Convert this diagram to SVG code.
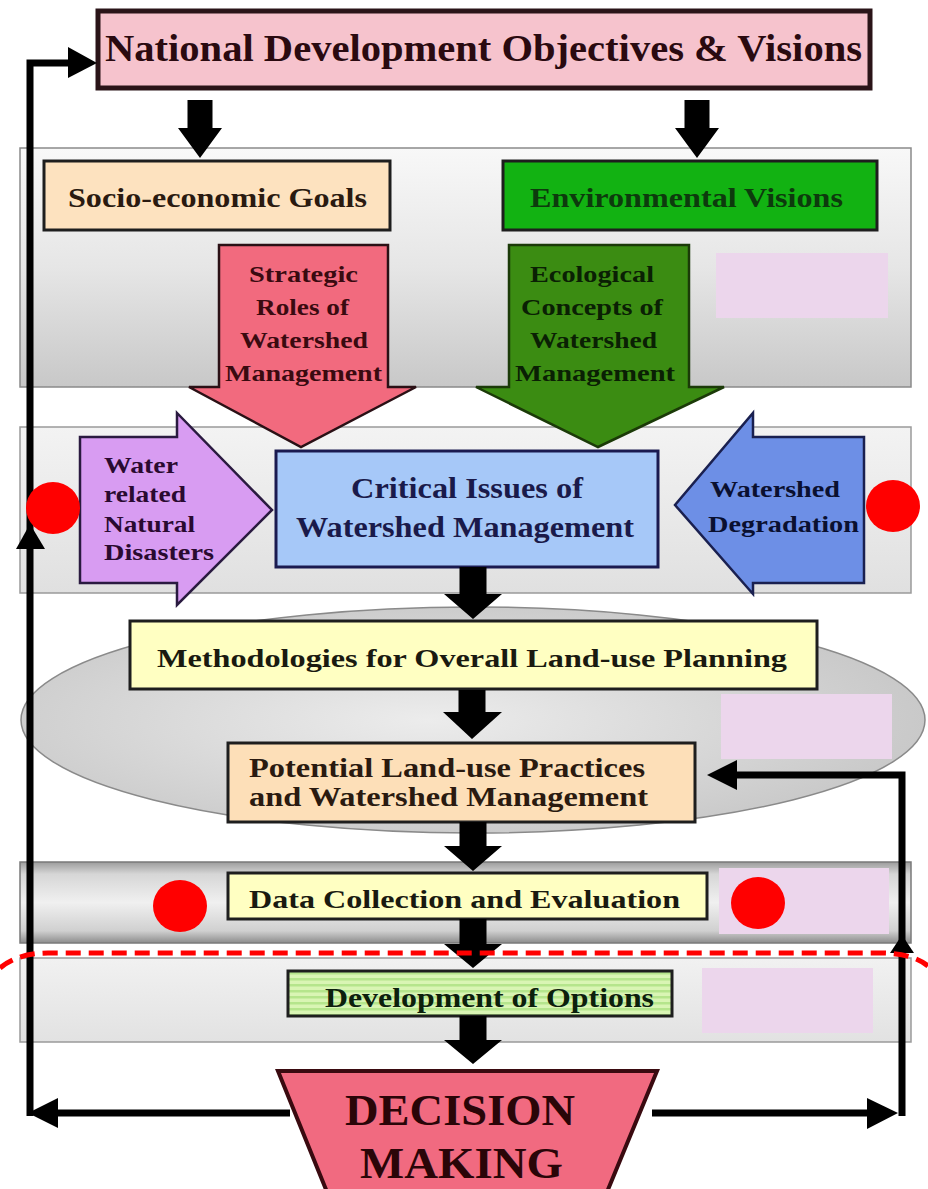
<svg xmlns="http://www.w3.org/2000/svg" width="928" height="1189" viewBox="0 0 928 1189">
<defs>
<style>
text{font-family:"Liberation Serif","Times New Roman",serif;font-weight:bold;}
.box{stroke:#1e1e1e;stroke-width:3;}
.blk{fill:#000;}
.fb{fill:none;stroke:#000;stroke-width:7;}
.lav{fill:#ecd6ec;}
.dot{fill:#ff0000;}
</style>
<linearGradient id="g1" x1="0" y1="0" x2="0" y2="1"><stop offset="0" stop-color="#f8f8f8"/><stop offset="0.5" stop-color="#e6e6e6"/><stop offset="1" stop-color="#c8c8c8"/></linearGradient>
<linearGradient id="g2" x1="0" y1="0" x2="0" y2="1"><stop offset="0" stop-color="#f3f3f3"/><stop offset="1" stop-color="#e0e0e0"/></linearGradient>
<radialGradient id="ge" cx="0.45" cy="0.5" r="0.55"><stop offset="0" stop-color="#ececec"/><stop offset="1" stop-color="#c9c9c9"/></radialGradient>
<linearGradient id="g3" x1="0" y1="0" x2="0" y2="1"><stop offset="0" stop-color="#9c9c9c"/><stop offset="0.15" stop-color="#d6d6d6"/><stop offset="0.5" stop-color="#f0f0f0"/><stop offset="0.85" stop-color="#d0d0d0"/><stop offset="1" stop-color="#8c8c8c"/></linearGradient>
<linearGradient id="g4" x1="0" y1="0" x2="0" y2="1"><stop offset="0" stop-color="#f1f1f1"/><stop offset="1" stop-color="#e2e2e2"/></linearGradient>
<pattern id="stripes" width="6" height="6" patternUnits="userSpaceOnUse"><rect width="6" height="6" fill="#d9f5b4"/><rect width="6" height="2.5" fill="#b5e58c"/></pattern>
</defs>

<g id="panels">
<rect x="20" y="148" width="891" height="239" fill="url(#g1)" stroke="#8a8a8a" stroke-width="1.5"/>
<rect x="20" y="427" width="891" height="166" fill="url(#g2)" stroke="#9a9a9a" stroke-width="1.5"/>
<ellipse cx="473" cy="720" rx="452" ry="113" fill="url(#ge)" stroke="#8a8a8a" stroke-width="1.5"/>
<rect x="20" y="862" width="891" height="81" fill="url(#g3)" stroke="#7a7a7a" stroke-width="1.5"/>
<rect x="20" y="958" width="891" height="84" fill="url(#g4)" stroke="#9a9a9a" stroke-width="1.5"/>
</g>

<g id="national">
<rect x="98" y="11" width="772" height="77" fill="#f6c3cd" stroke="#2a1418" stroke-width="5"/>
<text x="483.5" y="61" font-size="38" text-anchor="middle" fill="#2a0a10" textLength="757" lengthAdjust="spacingAndGlyphs">National Development Objectives &amp; Visions</text>
</g>

<g id="socio">
<rect class="box" x="44" y="161" width="346" height="69" fill="#fde2bf"/>
<text x="217.5" y="207" font-size="27" text-anchor="middle" fill="#2a1a10" textLength="299" lengthAdjust="spacingAndGlyphs">Socio-economic Goals</text>
</g>

<g id="environmental">
<rect class="box" x="503" y="161" width="374" height="69" fill="#12b212" stroke="#123a12"/>
<text x="686.5" y="207" font-size="27" text-anchor="middle" fill="#0d3a0d" textLength="313" lengthAdjust="spacingAndGlyphs">Environmental Visions</text>
</g>

<g id="strategic">
<path d="M219 245 H388 V387 H416 L301 447 L189 387 H219 Z" fill="#f26a7e" stroke="#2a1015" stroke-width="2.5"/>
<g font-size="24" text-anchor="middle" fill="#3a0a10">
<text x="303.5" y="282" textLength="109" lengthAdjust="spacingAndGlyphs">Strategic</text>
<text x="302.5" y="315" textLength="93" lengthAdjust="spacingAndGlyphs">Roles of</text>
<text x="304" y="348" textLength="128" lengthAdjust="spacingAndGlyphs">Watershed</text>
<text x="303.5" y="381" textLength="157" lengthAdjust="spacingAndGlyphs">Management</text>
</g>
</g>

<g id="ecological">
<path d="M509 245 H689 V387 H724 L598 447 L476 387 H509 Z" fill="#3b8c12" stroke="#1b3a08" stroke-width="2.5"/>
<g font-size="24" text-anchor="middle" fill="#0a2004">
<text x="592" y="282" textLength="124" lengthAdjust="spacingAndGlyphs">Ecological</text>
<text x="592" y="315" textLength="142" lengthAdjust="spacingAndGlyphs">Concepts of</text>
<text x="593.5" y="348" textLength="127" lengthAdjust="spacingAndGlyphs">Watershed</text>
<text x="595" y="381" textLength="160" lengthAdjust="spacingAndGlyphs">Management</text>
</g>
</g>

<g id="disasters">
<path d="M80 437 H177 V413 L272 510 L177 605 V583 H80 Z" fill="#d89cf2" stroke="#2a1a40" stroke-width="2.5"/>
<g font-size="24" fill="#2a0a30">
<text x="104" y="473" textLength="74" lengthAdjust="spacingAndGlyphs">Water</text>
<text x="104" y="502" textLength="82" lengthAdjust="spacingAndGlyphs">related</text>
<text x="104" y="532" textLength="91" lengthAdjust="spacingAndGlyphs">Natural</text>
<text x="104" y="560" textLength="110" lengthAdjust="spacingAndGlyphs">Disasters</text>
</g>
</g>

<g id="critical">
<rect x="276" y="451" width="382" height="116" fill="#a6c8f8" stroke="#1a1a50" stroke-width="3"/>
<text x="467" y="498" font-size="30" text-anchor="middle" fill="#1a1a4a" textLength="232" lengthAdjust="spacingAndGlyphs">Critical Issues of</text>
<text x="465" y="537" font-size="30" text-anchor="middle" fill="#1a1a4a" textLength="338" lengthAdjust="spacingAndGlyphs">Watershed Management</text>
</g>

<g id="degradation">
<path d="M864 437 H753 V413 L675 505 L753 594 V583 H864 Z" fill="#6d8fe6" stroke="#1a2050" stroke-width="2.5"/>
<g font-size="24" text-anchor="middle" fill="#0a1030">
<text x="775" y="497" textLength="130" lengthAdjust="spacingAndGlyphs">Watershed</text>
<text x="783.5" y="532" textLength="151" lengthAdjust="spacingAndGlyphs">Degradation</text>
</g>
</g>

<g id="methodologies">
<rect class="box" x="130" y="621" width="687" height="68" fill="#ffffc2"/>
<text x="472" y="667" font-size="26" text-anchor="middle" fill="#1a1a10" textLength="630" lengthAdjust="spacingAndGlyphs">Methodologies for Overall Land-use Planning</text>
</g>

<g id="potential">
<rect class="box" x="228" y="743" width="467" height="79" fill="#fddfb8"/>
<text x="249" y="777" font-size="28" fill="#2a1a10" textLength="396" lengthAdjust="spacingAndGlyphs">Potential Land-use Practices</text>
<text x="249" y="806" font-size="28" fill="#2a1a10" textLength="399" lengthAdjust="spacingAndGlyphs">and Watershed Management</text>
</g>

<g id="data">
<rect class="box" x="228" y="873" width="479" height="46" fill="#ffffc2"/>
<text x="464.5" y="908" font-size="26" text-anchor="middle" fill="#1a1a10" textLength="431" lengthAdjust="spacingAndGlyphs">Data Collection and Evaluation</text>
</g>

<g id="options">
<rect class="box" x="288" y="971" width="384" height="45" fill="url(#stripes)"/>
<text x="489.5" y="1007" font-size="27" text-anchor="middle" fill="#0c200c" textLength="329" lengthAdjust="spacingAndGlyphs">Development of Options</text>
</g>

<g id="decision">
<path d="M278 1071 H657 L607 1192 H327 Z" fill="#f16a80" stroke="#3a0a10" stroke-width="4"/>
<text x="460" y="1125" font-size="44" text-anchor="middle" fill="#2a0508" textLength="230" lengthAdjust="spacingAndGlyphs">DECISION</text>
<text x="461.5" y="1178" font-size="44" text-anchor="middle" fill="#2a0508" textLength="203" lengthAdjust="spacingAndGlyphs">MAKING</text>
</g>

<g id="connectors">
<path class="blk" d="M187.5 100 H212.5 V128 H222 L200 158 L178 128 H187.5 Z"/>
<path class="blk" d="M684.5 100 H709.5 V128 H719 L697 158 L675 128 H684.5 Z"/>
<path class="blk" d="M459.5 567 H486.5 V594 H502 L473 619 L444 594 H459.5 Z"/>
<path class="blk" d="M458.5 690 H485.5 V712 H502 L472 739 L443 712 H458.5 Z"/>
<path class="blk" d="M459.5 822 H486.5 V846 H502 L473 871 L444 846 H459.5 Z"/>
<path class="blk" d="M459.5 919 H486.5 V944 H502 L473 968 L444 944 H459.5 Z"/>
<path class="blk" d="M459.5 1016 H486.5 V1040 H502 L473 1064 L444 1040 H459.5 Z"/>
<path class="fb" d="M290 1113 H50"/>
<path class="fb" d="M30 1116 V63 H72"/>
<polygon class="blk" points="97,63 68,47 68,78"/>
<polygon class="blk" points="28,1113 58,1098 58,1128"/>
<polygon class="blk" points="30,524 16,549 45,549"/>
<path class="fb" d="M652 1113 H875"/>
<path class="fb" d="M902 1116 V775 H732"/>
<polygon class="blk" points="898,1113 867,1098 867,1129"/>
<polygon class="blk" points="707,775 737,760 737,790"/>
<polygon class="blk" points="902,935 890,953 914,953"/>
</g>

<g id="overlays">
<rect class="lav" x="716" y="253" width="172" height="65"/>
<rect class="lav" x="721" y="694" width="171" height="65"/>
<rect class="lav" x="719" y="868" width="170" height="66"/>
<rect class="lav" x="702" y="968" width="171" height="65"/>
<ellipse class="dot" cx="53" cy="508" rx="27" ry="26"/>
<ellipse class="dot" cx="893" cy="506" rx="27" ry="26"/>
<ellipse class="dot" cx="180" cy="906" rx="27" ry="26"/>
<ellipse class="dot" cx="758" cy="903" rx="27" ry="26"/>
<path d="M0 968 Q18 953 48 953 H880 Q912 953 928 966" fill="none" stroke="#ff0000" stroke-width="5" stroke-dasharray="15 8"/>
</g>
</svg>
